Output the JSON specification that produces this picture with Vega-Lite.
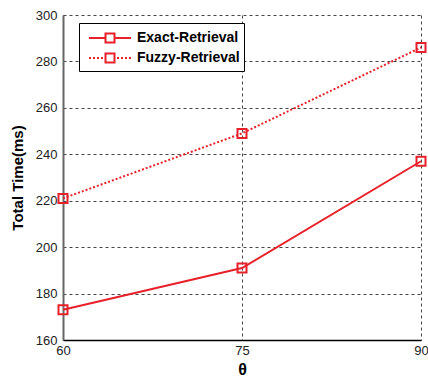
{
  "$schema": "https://vega.github.io/schema/vega-lite/v6.json",
  "width": 358,
  "height": 325,
  "autosize": {"type": "none"},
  "padding": {"left": 63, "top": 15, "right": 7, "bottom": 40},
  "background": "white",
  "config": {
    "font": "Liberation Sans",
    "view": {"stroke": null},
    "axis": {
      "grid": true,
      "gridColor": "#444",
      "gridDash": [3, 3],
      "gridWidth": 1,
      "ticks": false,
      "labelFont": "Liberation Sans",
      "labelFontSize": 13,
      "labelColor": "#222",
      "titleFont": "Liberation Sans",
      "titleFontWeight": "bold",
      "titleColor": "#000"
    }
  },
  "data": {
    "values": [
      {"theta": 60, "time": 173, "series": "Exact-Retrieval"},
      {"theta": 75, "time": 191, "series": "Exact-Retrieval"},
      {"theta": 90, "time": 237, "series": "Exact-Retrieval"},
      {"theta": 60, "time": 221, "series": "Fuzzy-Retrieval"},
      {"theta": 75, "time": 249, "series": "Fuzzy-Retrieval"},
      {"theta": 90, "time": 286, "series": "Fuzzy-Retrieval"}
    ]
  },
  "encoding": {
    "x": {
      "field": "theta",
      "type": "quantitative",
      "scale": {"domain": [60, 90], "nice": false, "zero": false},
      "axis": {
        "title": "θ",
        "titleFontSize": 16,
        "titlePadding": 4,
        "values": [60, 75, 90],
        "labelPadding": 4,
        "domainColor": "#000",
        "domainWidth": 1.5,
        "labelFlush": false
      }
    },
    "y": {
      "field": "time",
      "type": "quantitative",
      "scale": {"domain": [160, 300], "nice": false, "zero": false},
      "axis": {
        "title": "Total Time(ms)",
        "titleFontSize": 15,
        "titlePadding": 10,
        "values": [160, 180, 200, 220, 240, 260, 280, 300],
        "labelPadding": 6,
        "domainColor": "#666",
        "domainWidth": 2
      }
    }
  },
  "layer": [
    {
      "transform": [{"filter": "datum.series === 'Exact-Retrieval'"}],
      "mark": {"type": "line", "color": "#e8202a", "strokeWidth": 2}
    },
    {
      "transform": [{"filter": "datum.series === 'Fuzzy-Retrieval'"}],
      "mark": {"type": "line", "color": "#e8202a", "strokeWidth": 2, "strokeDash": [2, 2]}
    },
    {
      "mark": {"type": "point", "shape": "square", "filled": false, "color": "#e8202a", "strokeWidth": 2, "size": 81, "opacity": 1}
    },
    {
      "mark": {"type": "point", "filled": false, "strokeOpacity": 0, "fillOpacity": 0, "color": "#e8202a"},
      "encoding": {
        "shape": {
          "field": "series",
          "type": "nominal",
          "scale": {
            "domain": ["Exact-Retrieval", "Fuzzy-Retrieval"],
            "range": [
              "M-2.1,0H-0.45M0.45,0H2.1M-0.45,-0.45H0.45V0.45H-0.45Z",
              "M-2.1,0H-1.9M-1.7,0H-1.5M-1.3,0H-1.1M-0.9,0H-0.7M0.7,0H0.9M1.1,0H1.3M1.5,0H1.7M1.9,0H2.1M-0.45,-0.45H0.45V0.45H-0.45Z"
            ]
          },
          "legend": {
            "title": null,
            "orient": "none",
            "legendX": 16,
            "legendY": 8,
            "padding": 4,
            "strokeColor": "#000",
            "fillColor": "white",
            "symbolSize": 400,
            "symbolOffset": 16,
            "symbolStrokeColor": "#e8202a",
            "symbolFillColor": "transparent",
            "symbolStrokeWidth": 2,
            "symbolOpacity": 1,
            "labelOffset": 16,
            "labelFont": "Liberation Sans",
            "labelFontSize": 14,
            "labelFontWeight": "bold",
            "labelColor": "#000",
            "rowPadding": 0
          }
        }
      }
    }
  ]
}
